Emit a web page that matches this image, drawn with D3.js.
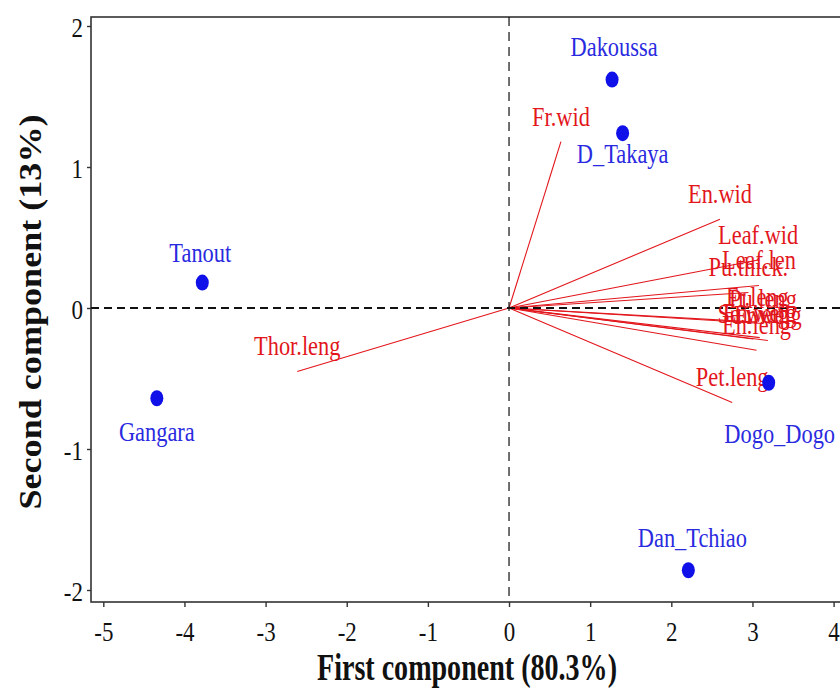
<!DOCTYPE html>
<html>
<head>
<meta charset="utf-8">
<script src="https://cdn.jsdelivr.net/npm/d3@7"></script>
<style>
  body { margin: 0; background: #ffffff; }
  svg { display: block; font-family: "Liberation Serif", "Times New Roman", serif; }
</style>
</head>
<body>
<svg id="chart" width="840" height="691"></svg>
<script>
// individuals (sites) scores on the first two components
const sites = ["Dakoussa", "D_Takaya", "Tanout", "Gangara", "Dogo_Dogo", "Dan_Tchiao"];
const siteDim1 = [1.27, 1.40, -3.78, -4.34, 3.20, 2.21];
const siteDim2 = [1.62, 1.24, 0.18, -0.64, -0.53, -1.86];

// variable loadings (arrow ends)
const traits = ["Fr.wid", "En.wid", "Leaf.wid", "Leaf.len", "Pu.thick.", "Fr.leng", "Pu.leng",
                "Se.weig", "En.weig", "Fr.weig", "En.leng", "Pet.leng", "Thor.leng"];
const traitDim1 = [0.64, 2.60, 3.07, 3.08, 2.95, 3.06, 3.13, 3.01, 3.09, 3.19, 3.05, 2.75, -2.61];
const traitDim2 = [1.18, 0.63, 0.34, 0.16, 0.11, -0.10, -0.11, -0.22, -0.21, -0.23, -0.30, -0.67, -0.45];

const xTicks = [-5, -4, -3, -2, -1, 0, 1, 2, 3, 4];
const yTicks = [-2, -1, 0, 1, 2];

// label placement for the site names (px, relative to the dot)
const siteLabelOffset = {
    "Dakoussa":   [2, -24],
    "D_Takaya":   [0, 30],
    "Tanout":     [-2, -21],
    "Gangara":    [0, 43],
    "Dogo_Dogo":  [11, 60],
    "Dan_Tchiao": [4, -23]
};

const RED = "#e2161c";
const BLUE_DOT = "#1010e8";
const BLUE_TXT = "#2a2ae0";
const SX = 0.8; // the original picture is stretched vertically

const svg = d3.select("#chart");
const plotLeft = 91, plotTop = 17, plotBottom = 602;

const x = d3.scaleLinear().domain([-5, 4]).range([103.3, 833.6]);
const y = d3.scaleLinear().domain([-2, 2]).range([590, 26]);

// axes
const xAxis = svg.append("g")
    .attr("transform", `translate(0,${plotBottom})`)
    .call(d3.axisBottom(x).tickValues(xTicks).tickSize(5).tickSizeOuter(0).tickFormat(d3.format("d")));
const yAxis = svg.append("g")
    .attr("transform", `translate(${plotLeft},0)`)
    .call(d3.axisLeft(y).tickValues(yTicks).tickSize(4).tickSizeOuter(0).tickFormat(d3.format("d")));

[xAxis, yAxis].forEach((g) => {
    g.select(".domain").remove();
    g.selectAll(".tick line").attr("stroke", "#333").attr("stroke-width", 1.4);
    g.selectAll(".tick text")
        .attr("fill", "#111")
        .style("font-family", "Liberation Serif")
        .style("font-size", "28px");
});
xAxis.selectAll(".tick text")
    .attr("y", 0).attr("dy", null)
    .attr("transform", `translate(0,39) scale(0.82,1)`)
    .text((d) => d < 0 ? "-" + Math.abs(d) : d);
yAxis.selectAll(".tick text")
    .attr("x", 0).attr("dy", null).attr("y", 0)
    .attr("transform", `translate(-8,10) scale(0.82,1)`)
    .text((d) => d < 0 ? "-" + Math.abs(d) : d);

// frame (right side runs off the picture)
svg.append("rect")
    .attr("x", plotLeft).attr("y", plotTop)
    .attr("width", 860 - plotLeft).attr("height", plotBottom - plotTop)
    .attr("fill", "none")
    .attr("stroke", "#333")
    .attr("stroke-width", 1.6);

// variable arrows
const traitData = traits.map((t, i) => ({ name: t, d1: traitDim1[i], d2: traitDim2[i] }));
svg.append("g")
    .selectAll("line")
    .data(traitData)
    .join("line")
    .attr("x1", x(0)).attr("y1", y(0))
    .attr("x2", (d) => x(d.d1)).attr("y2", (d) => y(d.d2))
    .attr("stroke", RED)
    .attr("stroke-width", 1.1);

// reference lines
svg.append("line")
    .attr("x1", x(0)).attr("x2", x(0))
    .attr("y1", plotTop).attr("y2", plotBottom)
    .attr("stroke", "#111").attr("stroke-width", 1.2)
    .attr("stroke-dasharray", "9,6");
svg.append("line")
    .attr("x1", plotLeft).attr("x2", 840)
    .attr("y1", y(0)).attr("y2", y(0))
    .attr("stroke", "#111").attr("stroke-width", 2)
    .attr("stroke-dasharray", "8,5");

// variable labels
svg.append("g")
    .selectAll("text")
    .data(traitData)
    .join("text")
    .attr("transform", (d) => `translate(${x(d.d1)},${y(d.d2) - 16}) scale(${SX},1)`)
    .attr("text-anchor", "middle")
    .attr("fill", RED)
    .style("font-size", "28px")
    .text((d) => d.name);

// sites
const siteData = sites.map((s, i) => ({ name: s, d1: siteDim1[i], d2: siteDim2[i] }));
svg.append("g")
    .selectAll("ellipse")
    .data(siteData)
    .join("ellipse")
    .attr("cx", (d) => x(d.d1)).attr("cy", (d) => y(d.d2))
    .attr("rx", 6.5).attr("ry", 8)
    .attr("fill", BLUE_DOT);

svg.append("g")
    .selectAll("text")
    .data(siteData)
    .join("text")
    .attr("transform", (d) => {
        const [dx, dy] = siteLabelOffset[d.name];
        return `translate(${x(d.d1) + dx},${y(d.d2) + dy}) scale(${SX},1)`;
    })
    .attr("text-anchor", "middle")
    .attr("fill", BLUE_TXT)
    .style("font-size", "28px")
    .text((d) => d.name);

// axis titles
svg.append("text")
    .attr("x", 467).attr("y", 680)
    .attr("text-anchor", "middle")
    .attr("font-weight", "bold")
    .attr("fill", "#111")
    .attr("textLength", 300)
    .attr("lengthAdjust", "spacingAndGlyphs")
    .style("font-size", "38px")
    .text("First component (80.3%)");

svg.append("text")
    .attr("transform", "translate(41,312) rotate(-90)")
    .attr("text-anchor", "middle")
    .attr("font-weight", "bold")
    .attr("fill", "#111")
    .attr("textLength", 395)
    .attr("lengthAdjust", "spacingAndGlyphs")
    .style("font-size", "31px")
    .text("Second component (13%)");
</script>
</body>
</html>
